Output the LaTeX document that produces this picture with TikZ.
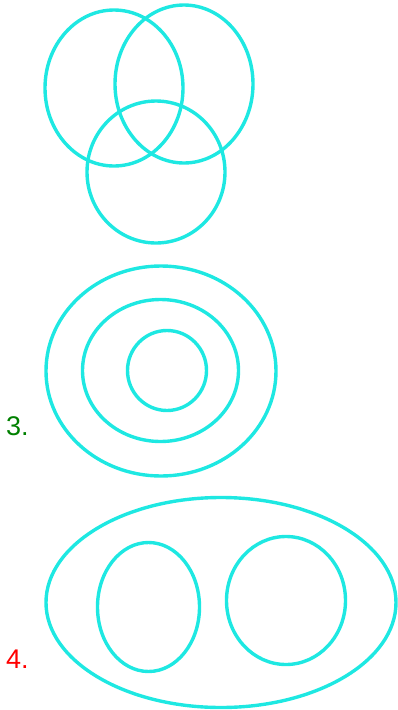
\documentclass[tikz,border=0pt]{standalone}
\usepackage{fontspec}
\setmainfont{Liberation Sans}
\definecolor{ring}{RGB}{30,232,226}
\definecolor{labgreen}{RGB}{0,128,0}
\definecolor{labred}{RGB}{255,0,0}
\begin{document}
\begin{tikzpicture}[x=1pt,y=-1pt,
  ring/.style={draw=ring,line width=3.4pt},
  lab/.style={anchor=base west,inner sep=0pt,font=\fontsize{27}{30}\selectfont}]
\useasboundingbox (0,0) rectangle (398,710);
% group 1: three overlapping circles
\draw[ring] (114,88) ellipse [x radius=69,y radius=78];
\draw[ring] (184,84) ellipse [x radius=69,y radius=79];
\draw[ring] (156,172) ellipse [x radius=69,y radius=71];
% group 2: nested rings
\draw[ring] (161,371) ellipse [x radius=115,y radius=105];
\draw[ring] (160.5,370.5) ellipse [x radius=78,y radius=71];
\draw[ring] (167,370.5) ellipse [x radius=39.5,y radius=40];
\node[lab,text=labgreen] (l3) at (6,435) {3.};
% group 3: two inside one
\draw[ring] (221,602.5) ellipse [x radius=175,y radius=105];
\draw[ring] (148.5,607) ellipse [x radius=51,y radius=64.5];
\draw[ring] (286,600.5) ellipse [x radius=59.5,y radius=64];
\node[lab,text=labred] (l4) at (6,668) {4.};
\end{tikzpicture}
\end{document}
